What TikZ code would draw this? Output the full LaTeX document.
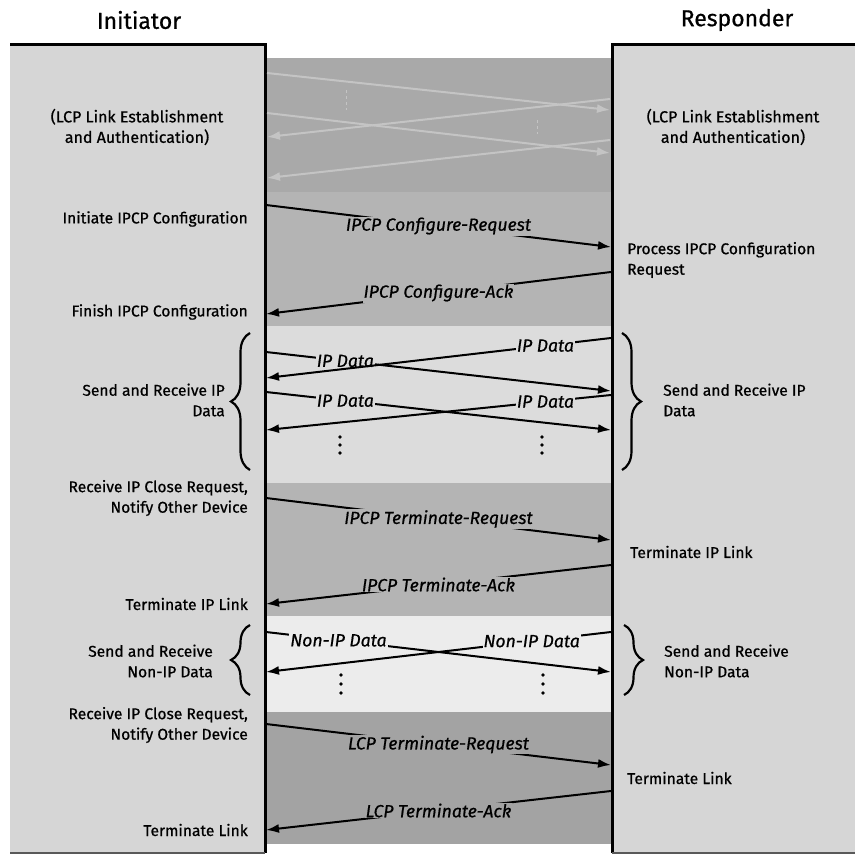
\documentclass[tikz,border=0pt]{standalone}
\usepackage{fontspec}
\setmainfont{Fira Sans}
\newfontfamily\diagfont[FakeBold=0.7]{Fira Sans}
\usetikzlibrary{decorations.pathreplacing, arrows.meta}

\definecolor{boxgray}{HTML}{D6D6D6}
\definecolor{bandA}{HTML}{A9A9A9}
\definecolor{bandB}{HTML}{B4B4B4}
\definecolor{bandC}{HTML}{DCDCDC}
\definecolor{bandD}{HTML}{ECECEC}
\definecolor{bandE}{HTML}{A3A3A3}
\definecolor{fadegray}{HTML}{C4C4C4}

\tikzset{
  msg/.style={>={Latex[length=13pt, width=9pt]}, ->, line width=2pt},
  fademsg/.style={msg, draw=fadegray},
  lbl/.style={font=\diagfont\fontsize{17.6}{19}\selectfont\itshape, inner sep=1pt},
  actL/.style={anchor=east, align=right, font=\diagfont\fontsize{15.6}{20.5}\selectfont, inner sep=0pt},
  actR/.style={anchor=west, align=left, font=\diagfont\fontsize{15.6}{20.5}\selectfont, inner sep=0pt},
  grp/.style={decorate, decoration={brace, amplitude=19pt}, line width=2.2pt},
  party/.style={font=\diagfont\fontsize{23}{26}\selectfont}
}

\begin{document}
\begin{tikzpicture}[x=1pt, y=-1pt]
  \useasboundingbox (0,0) rectangle (855,856);

  % bands between the two sides
  \fill[bandA] (265,58) rectangle (612,192);
  \fill[bandB] (265,192) rectangle (612,326);
  \fill[bandC] (265,326) rectangle (612,483);
  \fill[bandB] (265,483) rectangle (612,616);
  \fill[bandD] (265,616) rectangle (612,712);
  \fill[bandE] (265,712) rectangle (612,844);

  % the two sides
  \fill[boxgray] (10,45) rectangle (265,853);
  \fill[boxgray] (612,45) rectangle (855,853);
  \draw[line width=3pt] (10,45) -- (265,45) -- (265,853);
  \draw[line width=3pt] (855,45) -- (612,45) -- (612,853);
  \draw[line width=2pt, black!65] (10,853) -- (265,853);
  \draw[line width=2pt, black!65] (612,853) -- (855,853);

  \node[party] (init) at (139,20) {Initiator};
  \node[party] (resp) at (737,20) {Responder};

  % LCP link establishment
  \node[align=center, font=\diagfont\fontsize{16}{20.5}\selectfont] (estL) at (137,127) {(LCP Link Establishment\\and Authentication)};
  \node[align=center, font=\diagfont\fontsize{16}{20.5}\selectfont] (estR) at (733,127) {(LCP Link Establishment\\and Authentication)};
  \coordinate (estA1) at (267,73);  \coordinate (estA2) at (610,110);
  \coordinate (estB1) at (610,99);  \coordinate (estB2) at (267,137);
  \coordinate (estC1) at (267,113); \coordinate (estC2) at (610,153);
  \coordinate (estD1) at (610,140); \coordinate (estD2) at (267,178);
  \draw[fademsg] (estA1) -- (estA2);
  \draw[fademsg] (estB1) -- (estB2);
  \draw[fademsg] (estC1) -- (estC2);
  \draw[fademsg] (estD1) -- (estD2);
  \draw[fadegray, dashed, line width=1pt] (346,90) -- (346,110);
  \draw[fadegray, dashed, line width=1pt] (537,120) -- (537,134);

  % IPCP configuration
  \node[actL] (cfgL) at (248,219) {Initiate IPCP Configuration};
  \node[actR] (cfgR) at (627,260) {Process IPCP Configuration\\Request};
  \node[actL] (cfgDone) at (248,312) {Finish IPCP Configuration};
  \coordinate (cfgReqA) at (266,205); \coordinate (cfgReqB) at (611,247);
  \coordinate (cfgAckA) at (611,272); \coordinate (cfgAckB) at (266,314);
  \draw[msg] (cfgReqA) -- node[lbl, fill=bandB] (cfgReq) {IPCP Configure-Request} (cfgReqB);
  \draw[msg] (cfgAckA) -- node[lbl, fill=bandB] (cfgAck) {IPCP Configure-Ack} (cfgAckB);

  % IP data
  \node[actL] (ipL) at (225,400) {Send and Receive IP\\Data};
  \node[actR] (ipR) at (663,400) {Send and Receive IP\\Data};
  \draw[grp] (250,470) -- (250,333);
  \draw[grp] (622,333) -- (622,470);
  \coordinate (ipA1) at (266,352); \coordinate (ipA2) at (611,391);
  \coordinate (ipB1) at (611,338); \coordinate (ipB2) at (266,378);
  \coordinate (ipC1) at (266,392); \coordinate (ipC2) at (611,430);
  \coordinate (ipD1) at (611,395); \coordinate (ipD2) at (266,430);
  \draw[msg] (ipA1) -- node[lbl, fill=bandC, pos=0.23] (ipA) {IP Data} (ipA2);
  \draw[msg] (ipB1) -- node[lbl, fill=bandC, pos=0.19] (ipB) {IP Data} (ipB2);
  \draw[msg] (ipC1) -- node[lbl, fill=bandC, pos=0.23] (ipC) {IP Data} (ipC2);
  \draw[msg] (ipD1) -- node[lbl, fill=bandC, pos=0.19] (ipD) {IP Data} (ipD2);
  \foreach \y in {437,445,453}
  {
    \fill (340,\y) circle (1.8pt);
    \fill (542,\y) circle (1.8pt);
  }

  % IPCP termination
  \node[actL] (closeL) at (248,498) {Receive IP Close Request,\\Notify Other Device};
  \node[actR] (termR) at (630,552) {Terminate IP Link};
  \node[actL] (termL) at (248,604) {Terminate IP Link};
  \coordinate (termReqA) at (266,498); \coordinate (termReqB) at (611,540);
  \coordinate (termAckA) at (611,565); \coordinate (termAckB) at (266,604);
  \draw[msg] (termReqA) -- node[lbl, fill=bandB] (termReq) {IPCP Terminate-Request} (termReqB);
  \draw[msg] (termAckA) -- node[lbl, fill=bandB] (termAck) {IPCP Terminate-Ack} (termAckB);

  % non-IP data
  \node[actL] (nipL) at (213,661) {Send and Receive\\Non-IP Data};
  \node[actR] (nipR) at (664,661) {Send and Receive\\Non-IP Data};
  \draw[grp] (250,695) -- (250,625);
  \draw[grp] (624,625) -- (624,695);
  \coordinate (nipA1) at (266,632); \coordinate (nipA2) at (611,672);
  \coordinate (nipB1) at (611,632); \coordinate (nipB2) at (266,672);
  \draw[msg] (nipA1) -- node[lbl, fill=bandD, pos=0.21] (nipA) {Non-IP Data} (nipA2);
  \draw[msg] (nipB1) -- node[lbl, fill=bandD, pos=0.23] (nipB) {Non-IP Data} (nipB2);
  \foreach \y in {675,684,693}
  {
    \fill (341,\y) circle (1.8pt);
    \fill (543,\y) circle (1.8pt);
  }

  % LCP termination
  \node[actL] (close2L) at (248,725) {Receive IP Close Request,\\Notify Other Device};
  \node[actR] (lcpR) at (627,778) {Terminate Link};
  \node[actL] (lcpL) at (248,830) {Terminate Link};
  \coordinate (lcpReqA) at (266,724); \coordinate (lcpReqB) at (611,765);
  \coordinate (lcpAckA) at (611,791); \coordinate (lcpAckB) at (266,830);
  \draw[msg] (lcpReqA) -- node[lbl, fill=bandE] (lcpReq) {LCP Terminate-Request} (lcpReqB);
  \draw[msg] (lcpAckA) -- node[lbl, fill=bandE] (lcpAck) {LCP Terminate-Ack} (lcpAckB);
\end{tikzpicture}
\end{document}
